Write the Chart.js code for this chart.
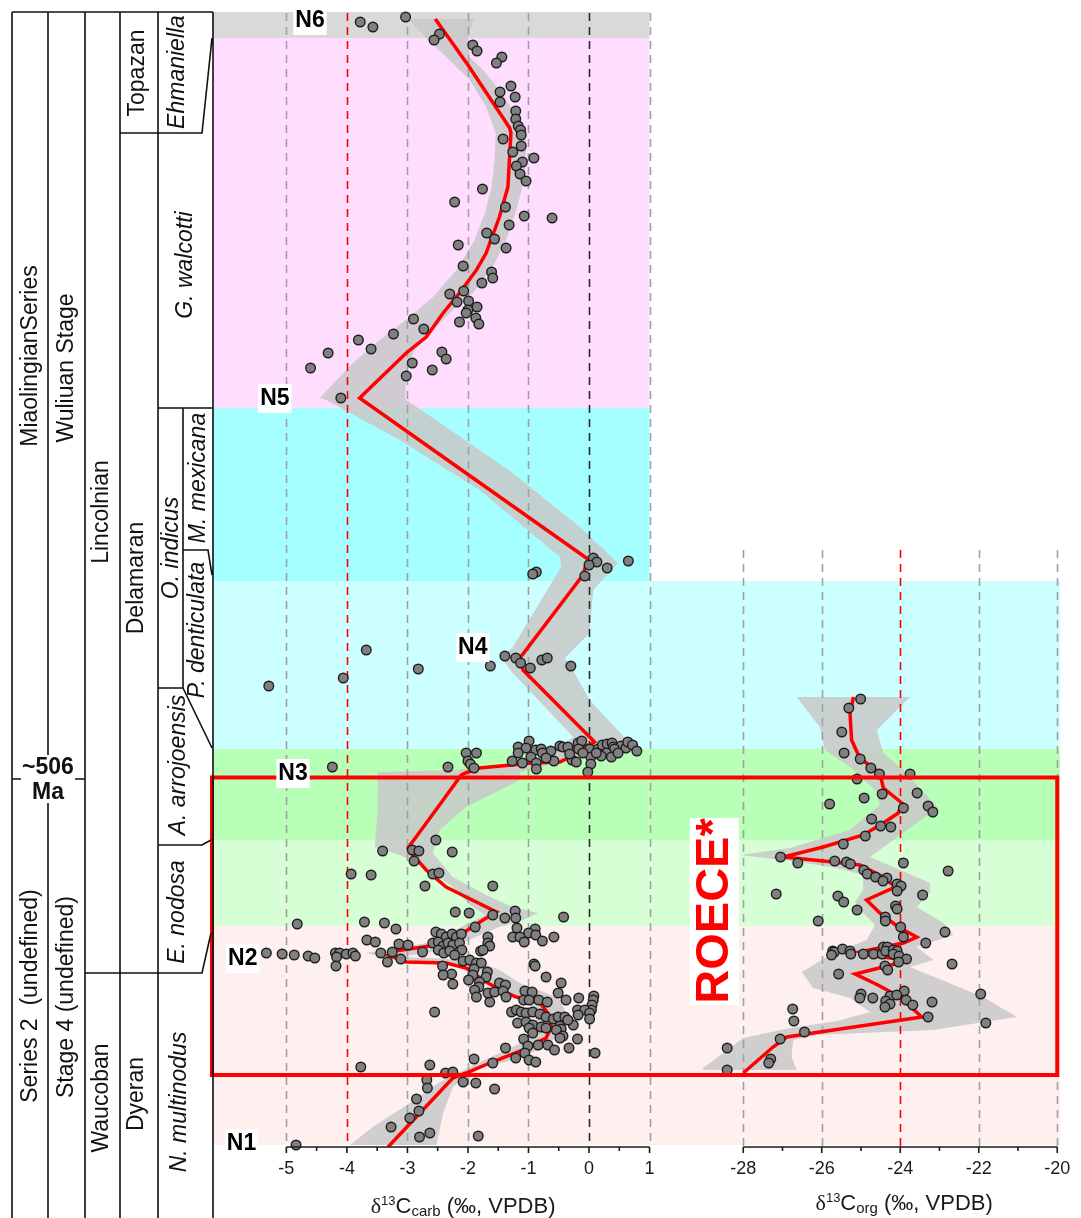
<!DOCTYPE html>
<html>
<head>
<meta charset="utf-8">
<title>δ13C carb and org profiles</title>
<script src="https://cdn.jsdelivr.net/npm/chart.js@4.4.1/dist/chart.umd.min.js"></script>
<style>
  html, body { margin: 0; padding: 0; background: #ffffff; }
  canvas { display: block; }
</style>
</head>
<body>
<canvas id="profile" width="1081" height="1218"></canvas>
<script>
// ---- stratigraphic height scale (arbitrary units, base of section = 0) ----
const HEIGHT_MAX = 113.5;

// ---- colour bands (edges in height, top to bottom) ----
const bandEdges  = [113.5, 110.9, 73.9, 56.6, 39.8, 30.7, 22.1, 0.2];
const bandColors = ['#d9d9d9', '#ffddff', '#a6ffff', '#ccffff', '#b8ffb8', '#d6ffd6', '#fff0f0'];
const orgBandTop = 56.6;          // bands from here down also span the org panel

// ---- ROECE interval ----
const roeceTop  = 36.95;
const roeceBase = 7.2;

// ---- biostratigraphic boundaries (height) ----
const topazanBase   = 101.4;
const walcottiBase  = 73.9;
const mexicanaBase  = 59.7;
const mexicanaSlant = 57.2;
const indicusBase   = 45.9;
const indicusSlant  = 39.9;
const ageBoundary   = 36.8;
const arrojoBase    = 30.2;
const arrojoSlant   = 30.7;
const stage4Top     = 17.4;
const stage4Slant   = 21.4;

// ---- column unit names and mid-heights ----
const seriesNames = ['MiaolingianSeries', 'Series 2  (undefined)'];
const seriesMid   = [79.1, 15.1];
const stageNames  = ['Wuliuan Stage', 'Stage 4 (undefined)'];
const stageMid    = [77.9, 15.0];
const regionalNames = ['Lincolnian', 'Waucoban'];
const regionalMid   = [63.5, 4.9];
const substageNames = ['Topazan', 'Delamaran', 'Dyeran'];
const substageMid   = [107.4, 56.9, 5.3];
const zoneNames = ['Ehmaniella', 'G. walcotti', 'O. indicus', 'M. mexicana', 'P. denticulata', 'A. arrojoensis', 'E. nodosa', 'N. multinodus'];
const zoneMid   = [107.5, 88.2, 59.9, 66.9, 51.7, 38.2, 23.5, 4.5];

// ---- axis ticks ----
const carbTicks = [-5, -4, -3, -2, -1, 0, 1];
const carbMinor = [-4.5, -3.5, -2.5, -1.5, -0.5, 0.5];
const orgTicks  = [-28, -26, -24, -22, -20];
const orgMinor  = [-27, -25, -23, -21];

// ---- carbonate δ13C samples [value ‰, height] ----
const carbSamples = [
  [-3.03,113.0],[-3.78,112.5],[-3.57,112.0],[-2.47,111.3],[-2.56,110.7],[-1.92,110.2],[-1.85,109.6],[-1.44,109.0],[-1.53,108.4],
  [-1.29,106.1],[-1.47,105.5],[-1.22,105.0],[-1.47,104.5],[-1.21,103.6],[-1.21,102.8],[-1.17,102.1],[-1.13,101.7],[-1.12,101.2],
  [-1.42,100.8],[-1.12,100.1],[-1.26,99.5],[-0.91,98.9],[-1.10,98.5],[-1.20,98.1],[-1.14,97.3],[-1.04,96.6],[-1.76,95.8],
  [-2.22,94.5],[-1.38,94.0],[-1.07,93.1],[-0.61,92.9],[-1.32,92.2],[-1.69,91.4],[-1.56,90.8],[-2.16,90.2],[-1.37,89.9],
  [-2.08,88.1],[-1.61,87.5],[-1.59,86.9],[-1.77,86.4],[-2.07,85.6],[-2.30,85.3],[-2.18,84.5],[-1.99,84.6],[-1.85,84.0],
  [-2.00,83.7],[-2.03,83.4],[-1.87,82.9],[-1.82,82.3],[-2.14,82.5],[-2.90,82.8],[-2.73,81.8],[-3.23,81.3],[-3.81,80.7],
  [-3.60,79.8],[-4.31,79.4],[-2.43,79.5],[-2.36,78.8],[-2.92,78.4],[-4.60,77.9],[-2.59,77.7],[-3.02,77.1],[-4.10,74.9],
  [0.07,58.9],[0.13,58.5],[0.00,58.2],[0.65,58.6],[0.30,57.9],[-0.07,57.1],[-0.87,57.5],[-0.93,57.3],
  [-3.68,49.7],[-5.29,46.1],[-4.06,46.9],[-2.82,47.8],[-1.39,49.1],[-1.21,48.9],[-1.13,48.4],[-1.63,48.1],[-0.97,47.9],
  [-0.78,48.7],[-0.69,48.9],[-0.30,48.1],
  [-0.99,40.6],[-1.17,40.0],[-1.04,39.9],[-1.17,39.4],[-0.88,39.7],[-0.79,39.8],[-0.63,39.6],[-0.77,39.4],[-0.48,40.1],
  [-0.43,40.0],[-0.35,40.0],[-0.18,40.4],[-0.12,40.6],[-0.17,39.8],[0.01,39.8],[0.15,39.8],[0.22,40.2],[0.30,40.3],
  [0.38,40.4],[0.40,40.0],[0.53,40.1],[0.61,39.9],[0.64,40.5],[0.72,40.2],[0.79,39.6],[0.42,39.8],[0.29,39.4],[0.20,39.1],
  [0.37,39.0],[0.03,39.0],[0.03,38.3],[-0.02,37.5],[-0.28,38.7],[-0.21,38.5],[-0.58,38.6],[-0.71,38.9],[-0.96,39.0],
  [-0.87,38.4],[-0.87,37.8],[-1.10,38.4],[-1.27,38.6],[-2.03,39.4],[-1.86,39.4],[-2.00,38.6],[-1.96,38.3],[-1.90,37.9],
  [-2.33,38.0],[-4.24,38.0],[-0.32,39.3],[-0.10,39.4],[0.12,39.4],[0.48,39.4],
  [-2.53,30.7],[-3.41,29.6],[-2.92,29.7],[-2.81,29.6],[-2.26,29.5],[-2.89,28.6],[-3.93,27.3],[-3.60,27.2],[-2.58,27.3],
  [-2.48,27.4],[-2.71,26.1],[-1.59,26.1],
  [-2.21,23.5],[-1.98,23.4],[-1.59,23.2],[-1.39,22.9],[-1.22,23.6],[-1.21,22.9],[-0.42,23.0],[-4.82,22.3],[-3.71,22.5],
  [-3.38,22.4],[-3.19,21.8],[-1.88,22.0],[-1.19,21.9],[-0.89,21.8],[-1.00,21.4],[-0.88,21.2],[-1.26,21.0],[-1.14,21.0],
  [-0.77,20.6],[-0.58,21.0],[-1.07,20.5],[-1.67,21.0],[-1.67,20.4],[-1.64,20.1],[-1.79,19.6],[-1.75,19.7],
  [-2.53,21.5],[-2.44,21.3],[-2.36,21.0],[-2.26,21.3],[-2.19,21.0],[-2.11,21.3],
  [-2.58,20.4],[-2.49,20.5],[-2.41,20.1],[-2.33,20.4],[-2.25,20.2],[-2.14,20.4],[-2.10,19.7],
  [-2.49,19.7],[-2.40,19.4],[-2.30,19.6],[-2.22,19.2],
  [-3.67,20.7],[-3.53,20.5],[-3.14,20.3],[-2.99,20.2],[-2.75,19.5],
  [-5.33,19.4],[-5.07,19.3],[-4.87,19.2],[-4.64,19.1],[-4.53,18.9],
  [-4.19,19.4],[-4.12,19.4],[-4.01,19.3],[-3.90,19.4],[-3.86,19.1],[-4.17,19.0],[-4.18,18.1],
  [-3.44,19.4],[-3.33,18.5],[-3.25,19.5],[-3.11,18.8],
  [-2.42,18.1],[-2.27,17.3],[-2.41,17.2],[-2.25,16.3],
  [-2.08,18.6],[-1.97,18.7],[-1.86,18.4],[-1.78,18.4],
  [-1.90,17.8],[-1.92,17.2],[-1.99,16.7],
  [-1.68,17.5],[-1.70,17.0],[-1.81,16.5],[-1.82,16.0],
  [-1.89,15.7],[-1.86,15.0],[-1.64,14.5],[-1.67,15.4],[-1.56,15.5],
  [-1.48,16.4],[-1.38,16.2],[-1.42,15.6],[-1.37,15.0],
  [-0.91,18.3],[-0.89,18.1],[-0.71,17.0],[-0.46,16.4],
  [-1.06,15.6],[-0.94,15.5],[-1.08,14.7],[-0.99,14.7],[-0.83,14.7],[-0.69,14.5],
  [-0.51,15.4],[-0.38,14.7],[-0.17,14.9],
  [0.08,15.1],[0.07,14.7],[0.05,14.2],[0.04,13.7],
  [-1.28,13.5],[-1.20,13.7],[-1.12,13.5],[-1.04,13.4],[-0.93,13.5],[-0.81,13.3],[-0.71,13.0],[-0.59,12.8],
  [-2.55,13.5],
  [-1.18,12.4],[-1.04,12.5],[-0.93,12.2],[-0.79,12.0],[-0.71,11.9],
  [-0.51,13.0],[-0.40,13.0],[-0.26,12.2],[-0.48,12.1],[-0.46,11.8],
  [-0.19,13.7],[-0.07,13.7],[0.01,13.4],[0.01,12.8],[-0.18,13.2],[-0.35,12.7],
  [-0.99,11.9],[-0.93,11.4],[-0.54,11.7],[-0.43,11.1],
  [-1.08,10.8],[-1.01,10.1],[-0.84,10.2],[-0.68,10.2],[-0.48,10.9],[-0.19,10.8],
  [-0.57,9.7],[-0.33,9.9],[-1.38,9.9],
  [-1.06,9.4],[-1.21,8.9],[-0.99,8.7],[-0.88,8.5],
  [0.10,9.4],[-1.90,8.8],[-1.59,8.4],[-2.63,8.2],[-3.77,8.0],
  [-2.37,7.4],[-2.25,7.5],[-2.68,6.7],[-2.67,5.9],[-2.08,6.5],[-1.87,6.4],[-1.56,5.8],
  [-2.85,4.8],[-2.81,3.6],[-2.96,2.9],[-3.27,2.0],[-2.80,1.0],[-2.63,1.4],[-1.83,1.1],[-4.84,0.2]
];

// ---- carbonate LOWESS trend and envelope ----
const carbTrend = [
  [-2.54,112.8],[-2.00,108.2],[-1.31,101.9],[-1.29,101.4],[-1.34,96.0],[-1.48,93.0],[-1.70,89.4],[-1.86,87.7],
  [-2.14,85.4],[-2.41,83.4],[-2.69,81.0],[-3.02,79.4],[-3.79,74.9],[-0.02,58.8],[-0.10,57.2],[-1.14,48.9],[-1.09,47.7],
  [0.01,41.0],[0.09,40.5],[0.01,40.2],[-0.32,39.9],[-0.35,38.9],[-0.48,38.5],[-0.93,38.4],[-1.81,37.9],[-2.00,37.5],
  [-2.11,37.2],[-2.41,34.7],[-2.99,29.9],[-2.91,29.2],[-2.69,27.7],[-2.36,26.0],[-2.03,25.0],[-1.53,23.5],[-1.75,22.7],
  [-2.08,21.4],[-2.36,20.4],[-2.74,20.0],[-3.21,19.6],[-3.32,19.2],[-3.02,18.5],[-2.36,18.4],[-2.03,17.9],[-1.75,16.7],
  [-1.53,15.9],[-1.20,15.0],[-0.81,14.4],[-0.68,13.4],[-0.62,12.0],[-0.71,10.9],[-1.09,9.7],[-1.64,8.4],[-2.03,7.4],
  [-2.25,6.9],[-3.32,0.0]
];
const carbBandLow = [
  [-2.99,112.8],[-2.69,110.9],[-2.36,109.0],[-1.97,106.7],[-1.70,104.0],[-1.54,101.4],[-1.56,98.7],[-1.61,96.0],
  [-1.72,93.4],[-1.89,90.7],[-2.19,87.7],[-2.58,85.0],[-2.96,83.0],[-3.46,80.7],[-3.90,78.4],[-4.45,74.9],[-4.34,74.7],
  [-3.13,70.7],[-1.81,65.7],[-0.48,59.0],[-0.46,58.0],[-1.26,50.0],[-1.45,48.9],[-1.26,47.4],[-0.65,43.5],[-0.26,41.0],
  [-0.76,38.7],[-2.21,37.7],[-3.49,37.5],[-3.49,36.7],[-3.50,33.4],[-3.54,30.0],[-3.13,29.2],[-2.69,27.9],[-2.25,26.0],
  [-1.97,24.2],[-1.72,23.2],[-2.21,21.7],[-2.69,20.4],[-3.13,19.9],[-3.68,19.4],[-3.24,18.7],[-2.36,18.4],[-1.92,17.5],
  [-1.64,16.4],[-1.31,15.4],[-0.98,14.4],[-0.87,12.7],[-0.93,11.0],[-1.37,9.7],[-1.97,8.0],[-2.41,6.7],[-2.96,4.4],
  [-3.57,2.0],[-3.95,0.2]
];
const carbBandHigh = [
  [-1.89,112.8],[-2.00,111.4],[-1.97,109.0],[-1.75,107.7],[-1.48,105.7],[-1.23,103.4],[-1.04,100.7],[-1.06,97.0],
  [-1.20,93.7],[-1.37,90.7],[-1.59,88.0],[-1.92,85.4],[-2.25,83.7],[-2.63,81.4],[-2.91,79.4],[-3.02,77.4],[-3.04,74.9],
  [-3.02,74.7],[-2.36,72.0],[-1.26,67.4],[-0.15,62.0],[0.48,58.4],[0.07,55.7],[0.01,51.4],[-0.40,48.9],[-0.24,47.4],
  [0.01,44.7],[0.67,40.4],[-0.54,38.4],[-1.14,37.5],[-1.14,36.7],[-2.03,34.0],[-2.47,31.7],[-2.58,29.4],[-2.25,27.0],
  [-1.70,25.2],[-1.26,24.0],[-0.84,23.4],[-1.09,22.7],[-1.48,22.0],[-1.87,21.0],[-2.36,19.7],[-3.13,19.0],[-2.58,18.9],
  [-1.81,18.5],[-1.48,17.7],[-1.14,16.4],[-0.71,15.4],[-0.48,14.7],[-0.38,13.4],[-0.48,11.4],[-0.71,10.0],[-1.26,8.7],
  [-1.92,7.7],[-2.25,6.0],[-2.41,3.4],[-2.52,0.2]
];

// ---- organic δ13C samples [value ‰, height] ----
const orgSamples = [
  [-25.01,44.8],[-25.31,43.9],[-25.49,41.5],[-25.43,39.4],[-25.02,38.8],[-24.75,37.9],[-24.53,37.3],[-23.75,37.3],
  [-25.10,36.8],[-24.46,35.3],[-23.57,35.4],[-24.92,34.9],[-25.80,34.3],[-23.92,33.9],[-23.29,34.1],[-23.17,33.5],
  [-24.73,32.8],[-24.50,32.1],[-24.24,32.0],[-24.89,31.1],[-25.45,30.3],[-27.05,29.0],[-26.61,28.4],[-25.67,28.6],
  [-25.37,28.5],[-25.27,28.3],[-23.92,28.4],[-22.78,27.6],[-24.93,27.7],[-24.84,27.3],[-24.63,27.0],[-24.34,26.9],
  [-24.44,26.6],[-24.08,26.3],[-23.98,26.1],[-24.08,25.6],[-27.16,25.3],[-25.59,25.1],[-25.44,24.5],[-23.43,25.2],
  [-24.12,24.1],[-24.08,23.8],[-25.10,23.7],[-24.38,23.0],[-24.38,22.6],[-26.09,22.6],[-23.99,22.0],[-22.86,21.5],
  [-23.92,21.0],[-23.35,20.4],[-22.68,18.3],[-25.72,19.6],[-25.68,19.5],[-25.75,19.2],[-25.47,19.8],[-25.28,19.6],
  [-25.26,19.3],[-24.94,19.3],[-24.68,19.3],[-24.46,19.3],[-24.43,20.0],[-24.33,20.0],[-24.37,19.6],[-24.18,19.7],
  [-24.08,19.6],[-24.18,19.3],[-24.03,19.1],[-23.84,18.8],[-24.04,18.5],[-24.39,18.1],[-24.32,17.7],[-25.57,17.3],
  [-23.90,15.6],[-25.00,15.3],[-25.03,14.9],[-24.70,14.9],[-24.26,15.1],[-24.09,15.2],[-24.37,14.6],[-24.26,14.3],
  [-24.39,14.0],[-23.85,14.7],[-23.68,14.2],[-23.19,14.5],[-21.95,15.3],[-21.82,12.4],[-23.29,13.0],[-26.74,13.8],
  [-26.71,12.6],[-26.44,11.5],[-27.06,10.8],[-28.41,9.9],[-27.30,8.8],[-27.35,8.4],[-28.41,7.7]
];

// ---- organic LOWESS trend and envelope ----
const orgTrend = [
  [-25.19,45.0],[-25.28,43.4],[-25.24,40.7],[-25.03,38.9],[-24.52,37.4],[-24.43,35.9],[-23.96,34.4],[-24.05,33.4],
  [-24.43,32.4],[-24.94,31.2],[-25.96,30.0],[-26.98,29.0],[-25.71,28.5],[-25.03,28.2],[-24.43,27.0],[-24.13,26.0],
  [-24.86,24.7],[-24.52,23.4],[-24.05,22.0],[-23.58,21.0],[-23.92,20.4],[-24.43,20.0],[-25.03,19.5],[-24.70,19.1],
  [-24.01,18.8],[-23.93,18.5],[-25.15,17.3],[-24.57,16.2],[-24.01,15.0],[-23.45,13.0],[-26.05,11.5],[-26.89,11.0],
  [-27.24,10.0],[-28.00,7.4]
];
const orgBandLow = [
  [-26.64,45.0],[-26.05,42.0],[-25.92,39.7],[-25.28,38.0],[-24.64,35.7],[-24.52,34.2],[-25.28,31.7],[-26.81,29.9],
  [-28.08,29.2],[-26.56,28.5],[-25.62,27.9],[-24.94,27.2],[-24.95,25.7],[-25.15,24.5],[-24.95,23.4],[-24.64,22.2],
  [-24.86,20.7],[-25.79,19.2],[-26.51,17.5],[-26.22,15.9],[-25.28,14.9],[-24.77,13.5],[-25.60,12.6],[-26.80,11.9],
  [-28.00,10.9],[-29.02,7.9],[-29.02,7.7]
];
const orgBandHigh = [
  [-23.75,45.0],[-24.60,41.7],[-24.43,39.4],[-23.92,37.7],[-23.03,33.9],[-23.58,32.4],[-24.77,29.0],[-23.24,26.4],
  [-23.24,25.5],[-23.58,24.0],[-22.90,22.4],[-22.65,21.2],[-23.58,20.0],[-23.16,18.7],[-23.75,18.0],[-21.89,15.0],
  [-21.03,13.0],[-23.16,11.7],[-26.13,11.2],[-26.73,10.7],[-26.77,9.0],[-26.64,7.7]
];

// ---- zone labels [carb value, height] ----
const zoneTags = ['N1', 'N2', 'N3', 'N4', 'N5', 'N6'];
const zoneTagAt = [[-5.74,0.4],[-5.72,18.9],[-4.89,37.4],[-1.92,50.0],[-5.19,74.9],[-4.61,112.7]];

// ---------------------------------------------------------------
const FONT = '"Liberation Sans", Arial, Helvetica, sans-serif';
const toXY = arr => arr.map(p => ({x: p[0], y: p[1]}));
const ring = (low, high) => toXY(low.concat(high.slice().reverse()));

const ENVELOPE = 'rgba(200,200,200,0.85)';
const RED = '#ff0000';

function vText(ctx, text, cx, cy, font) {
  ctx.save();
  ctx.translate(cx, cy);
  ctx.rotate(-Math.PI / 2);
  ctx.font = font;
  ctx.textAlign = 'center';
  ctx.textBaseline = 'middle';
  ctx.fillText(text, 0, 0);
  ctx.restore();
}

function drawGrid(chart) {
  const {ctx, chartArea: a, scales: {x, x2, y}} = chart;
  ctx.save();
  ctx.setLineDash([8, 6]);
  ctx.lineWidth = 1.6;
  carbTicks.forEach(v => {
    const px = Math.round(x.getPixelForValue(v)) + 0.5;
    ctx.strokeStyle = v === -4 ? RED : (v === 0 ? '#2a2a2a' : '#a0a0a0');
    ctx.beginPath(); ctx.moveTo(px, a.top + 1); ctx.lineTo(px, y.getPixelForValue(0)); ctx.stroke();
  });
  orgTicks.forEach(v => {
    const px = Math.round(x2.getPixelForValue(v)) + 0.5;
    ctx.strokeStyle = v === -24 ? RED : '#a0a0a0';
    ctx.beginPath(); ctx.moveTo(px, y.getPixelForValue(59.7)); ctx.lineTo(px, y.getPixelForValue(0)); ctx.stroke();
  });
  ctx.restore();
}

const backdrop = {
  id: 'backdrop',
  beforeDatasetsDraw(chart) {
    const {ctx, chartArea: a, scales: {x, y}} = chart;
    const split = x.getPixelForValue(1);
    ctx.save();
    for (let i = 0; i < bandColors.length; i++) {
      const top = y.getPixelForValue(bandEdges[i]);
      const bot = y.getPixelForValue(bandEdges[i + 1]);
      ctx.fillStyle = bandColors[i];
      ctx.fillRect(a.left, top, split - a.left, bot - top);
      if (bandEdges[i] <= orgBandTop) ctx.fillRect(split, top, a.right - split, bot - top);
    }
    ctx.restore();
  },
  afterDatasetDraw(chart, args) {
    // grid lines sit above the envelopes but below trends and samples
    if (args.index === 1) drawGrid(chart);
  }
};

function drawAxis(ctx, scale, y0, ticks, minor, from, to) {
  ctx.save();
  ctx.strokeStyle = '#1a1a1a';
  ctx.lineWidth = 1.6;
  ctx.beginPath();
  ctx.moveTo(scale.getPixelForValue(from), y0);
  ctx.lineTo(scale.getPixelForValue(to), y0);
  ticks.forEach(v => { const p = scale.getPixelForValue(v); ctx.moveTo(p, y0); ctx.lineTo(p, y0 + 6); });
  minor.forEach(v => { const p = scale.getPixelForValue(v); ctx.moveTo(p, y0); ctx.lineTo(p, y0 + 4); });
  ctx.stroke();
  ctx.fillStyle = '#1a1a1a';
  ctx.font = '18px ' + FONT;
  ctx.textAlign = 'center';
  ctx.textBaseline = 'alphabetic';
  ticks.forEach(v => ctx.fillText(String(v), scale.getPixelForValue(v), y0 + 27));
  ctx.restore();
}

function drawIsoTitle(ctx, cx, baseline, sub) {
  const parts = [
    {t: 'δ', f: '22px "Liberation Serif", "DejaVu Serif", serif', dy: 0},
    {t: '13', f: '13px ' + FONT, dy: -8},
    {t: 'C', f: '22px ' + FONT, dy: 0},
    {t: sub, f: '15px ' + FONT, dy: 3},
    {t: ' (‰, VPDB)', f: '22px ' + FONT, dy: 0}
  ];
  ctx.save();
  ctx.fillStyle = '#1a1a1a';
  ctx.textBaseline = 'alphabetic';
  ctx.textAlign = 'left';
  let total = 0;
  parts.forEach(p => { ctx.font = p.f; p.w = ctx.measureText(p.t).width; total += p.w; });
  let xx = cx - total / 2;
  parts.forEach(p => { ctx.font = p.f; ctx.fillText(p.t, xx, baseline + p.dy); xx += p.w; });
  ctx.restore();
}

function drawColumn(chart) {
  const {ctx, chartArea: a, scales: {y}} = chart;
  const Y = h => y.getPixelForValue(h);
  const top = a.top, bottom = chart.height;
  const cols = [12, 48, 85, 120, 158, 213];
  ctx.save();
  ctx.strokeStyle = '#111';
  ctx.lineWidth = 1.6;
  ctx.beginPath();
  cols.forEach(c => { ctx.moveTo(c, top); ctx.lineTo(c, bottom); });
  ctx.moveTo(12, top); ctx.lineTo(213, top);
  // Topazan / Ehmaniella base
  ctx.moveTo(120, Y(topazanBase)); ctx.lineTo(202, Y(topazanBase)); ctx.lineTo(212, Y(bandEdges[1]));
  // G. walcotti base
  ctx.moveTo(158, Y(walcottiBase)); ctx.lineTo(213, Y(walcottiBase));
  // O. indicus | M. mexicana divider
  ctx.moveTo(183, Y(walcottiBase)); ctx.lineTo(183, Y(indicusBase));
  // M. mexicana base
  ctx.moveTo(183, Y(mexicanaBase)); ctx.lineTo(208, Y(mexicanaBase)); ctx.lineTo(212, Y(mexicanaSlant));
  // O. indicus base
  ctx.moveTo(158, Y(indicusBase)); ctx.lineTo(183, Y(indicusBase)); ctx.lineTo(212, Y(indicusSlant));
  // series / stage boundary
  ctx.moveTo(12, Y(ageBoundary)); ctx.lineTo(85, Y(ageBoundary));
  // A. arrojoensis base
  ctx.moveTo(158, Y(arrojoBase)); ctx.lineTo(202, Y(arrojoBase)); ctx.lineTo(211, Y(arrojoSlant));
  // Waucoban / Dyeran top
  ctx.moveTo(85, Y(stage4Top)); ctx.lineTo(202, Y(stage4Top)); ctx.lineTo(211, Y(stage4Slant));
  ctx.stroke();

  // ~506 Ma age tag
  const ay = Y(ageBoundary);
  ctx.fillStyle = '#ffffff';
  ctx.fillRect(21, ay - 24, 54, 48);
  ctx.fillStyle = '#111';
  ctx.font = 'bold 23px ' + FONT;
  ctx.textAlign = 'center';
  ctx.textBaseline = 'middle';
  ctx.fillText('~506', 48, ay - 11);
  ctx.fillText('Ma', 48, ay + 14);

  const plain = '23px ' + FONT;
  const ital = 'italic 23px ' + FONT;
  seriesNames.forEach((t, i) => vText(ctx, t, 31, Y(seriesMid[i]), plain));
  stageNames.forEach((t, i) => vText(ctx, t, 67, Y(stageMid[i]), plain));
  regionalNames.forEach((t, i) => vText(ctx, t, 102, Y(regionalMid[i]), plain));
  const subX = [138, 137, 137];
  substageNames.forEach((t, i) => vText(ctx, t, subX[i], Y(substageMid[i]), plain));
  const zoneX = [178, 186, 172, 199, 198, 179, 178, 180];
  zoneNames.forEach((t, i) => vText(ctx, t, zoneX[i], Y(zoneMid[i]), ital));
  ctx.restore();
}

const overlay = {
  id: 'overlay',
  afterDatasetsDraw(chart) {
    const {ctx, chartArea: a, scales: {x, x2, y}} = chart;
    ctx.save();

    // ROECE interval frame
    const rt = y.getPixelForValue(roeceTop), rb = y.getPixelForValue(roeceBase);
    const rl = a.left - 1, rr = x2.getPixelForValue(-20);
    ctx.strokeStyle = RED;
    ctx.lineWidth = 4;
    ctx.setLineDash([]);
    ctx.strokeRect(rl, rt, rr - rl, rb - rt);

    // ROECE* tag
    const cx = x2.getPixelForValue(-28.75), cy = y.getPixelForValue(23.6);
    ctx.fillStyle = '#ffffff';
    ctx.fillRect(cx - 24, cy - 93, 49, 187);
    ctx.fillStyle = RED;
    vText(ctx, 'ROECE*', cx + 1, cy, 'bold 47px ' + FONT);

    // N1–N6 tags
    ctx.font = 'bold 23px ' + FONT;
    ctx.textAlign = 'center';
    ctx.textBaseline = 'middle';
    zoneTags.forEach((t, i) => {
      const px = x.getPixelForValue(zoneTagAt[i][0]);
      const py = y.getPixelForValue(zoneTagAt[i][1]);
      const w = ctx.measureText(t).width + 4;
      ctx.fillStyle = '#ffffff';
      ctx.fillRect(px - w / 2, py - 14, w, 29);
      ctx.fillStyle = '#000000';
      ctx.fillText(t, px, py + 1);
    });
    ctx.restore();

    const y0 = y.getPixelForValue(0);
    drawAxis(ctx, x, y0, carbTicks, carbMinor, -5, 1);
    drawAxis(ctx, x2, y0, orgTicks, orgMinor, -28, -20);
    drawIsoTitle(ctx, x.getPixelForValue(-2.08), 1213, 'carb');
    drawIsoTitle(ctx, x2.getPixelForValue(-23.9), 1210, 'org');

    drawColumn(chart);
  }
};

const sampleStyle = {
  type: 'scatter',
  pointRadius: 4.8,
  pointHoverRadius: 4.8,
  pointBackgroundColor: '#808080',
  pointBorderColor: '#1e1e1e',
  pointBorderWidth: 1.4,
  showLine: false,
  clip: false,
  order: 1
};
const trendStyle = {
  type: 'line',
  borderColor: RED,
  borderWidth: 3.5,
  pointRadius: 0,
  fill: false,
  tension: 0,
  order: 2
};
const envelopeStyle = {
  type: 'line',
  backgroundColor: ENVELOPE,
  borderColor: 'rgba(0,0,0,0)',
  borderWidth: 1,
  pointRadius: 0,
  fill: 'shape',
  tension: 0
};

new Chart(document.getElementById('profile'), {
  type: 'scatter',
  data: {
    datasets: [
      Object.assign({}, envelopeStyle, {label: 'carb envelope', data: ring(carbBandLow, carbBandHigh), xAxisID: 'x', yAxisID: 'y', order: 5}),
      Object.assign({}, envelopeStyle, {label: 'org envelope', data: ring(orgBandLow, orgBandHigh), xAxisID: 'x2', yAxisID: 'y', order: 4}),
      Object.assign({}, trendStyle, {label: 'carb trend', data: toXY(carbTrend), xAxisID: 'x', yAxisID: 'y'}),
      Object.assign({}, trendStyle, {label: 'org trend', data: toXY(orgTrend), xAxisID: 'x2', yAxisID: 'y'}),
      Object.assign({}, sampleStyle, {label: 'δ13C carb', data: toXY(carbSamples), xAxisID: 'x', yAxisID: 'y'}),
      Object.assign({}, sampleStyle, {label: 'δ13C org', data: toXY(orgSamples), xAxisID: 'x2', yAxisID: 'y'})
    ]
  },
  options: {
    responsive: false,
    animation: false,
    devicePixelRatio: 1,
    events: [],
    layout: {padding: {left: 213, right: 21, top: 12, bottom: 71}},
    plugins: {legend: {display: false}, tooltip: {enabled: false}},
    scales: {
      x:  {type: 'linear', position: 'bottom', min: -6.212, max: 7.781, display: false},
      x2: {type: 'linear', position: 'bottom', min: -41.51, max: -19.93, display: false},
      y:  {type: 'linear', min: 0, max: HEIGHT_MAX, display: false}
    }
  },
  plugins: [backdrop, overlay]
});
</script>
</body>
</html>
